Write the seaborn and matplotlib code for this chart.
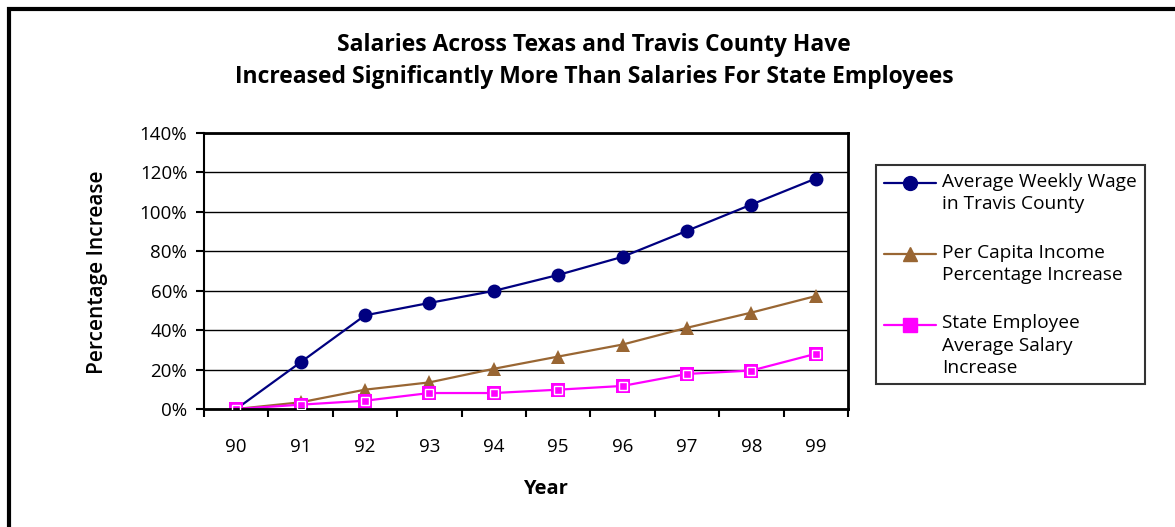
import matplotlib
matplotlib.use("Agg")
import matplotlib.pyplot as plt
import seaborn as sns
import pandas as pd
import numpy as np
from matplotlib.patches import Rectangle
from matplotlib.lines import Line2D
from matplotlib.ticker import FixedLocator, PercentFormatter

years = ["90", "91", "92", "93", "94", "95", "96", "97", "98", "99"]
wage_travis = [0, 23.7, 47.5, 53.8, 59.9, 68.0, 77.2, 90.4, 103.7, 116.9]
per_capita = [0, 3.4, 9.8, 13.5, 20.4, 26.6, 32.7, 41.2, 48.9, 57.3]
state_salary = [0, 2.2, 4.2, 8.1, 8.1, 9.8, 11.7, 17.8, 19.5, 28.0]

labels = ["Average Weekly Wage\nin Travis County",
          "Per Capita Income\nPercentage Increase",
          "State Employee\nAverage Salary\nIncrease"]
colors = ["#000080", "#996633", "#FF00FF"]
markers = ["o", "^", "s"]

sns.set_theme(style="white")
plt.rcParams['font.family'] = ['Open Sans', 'DejaVu Sans']
plt.rcParams.update({"text.color": "black", "axes.labelcolor": "black",
                     "xtick.color": "black", "ytick.color": "black"})

rows = []
for lab, vals in zip(labels, [wage_travis, per_capita, state_salary]):
    for i, v in enumerate(vals):
        rows.append({"x": i, "y": v, "series": lab})
df = pd.DataFrame(rows)

fig = plt.figure(figsize=(11.75, 5.27), dpi=100)
ax = fig.add_axes([204/1175, 1-409/527, (848-204)/1175, (409-133)/527])

sns.lineplot(data=df, x="x", y="y", hue="series", style="series",
             palette=dict(zip(labels, colors)),
             markers=dict(zip(labels, markers)), dashes=False,
             markersize=10, linewidth=1.6, markeredgewidth=0,
             ax=ax, legend=False)
ax.plot(range(len(years)), state_salary, linestyle="none", marker="s",
        markersize=6, markerfacecolor="none", markeredgecolor="white",
        markeredgewidth=1.0, zorder=5)

ax.set_xlim(-0.5, len(years) - 0.5)
ax.set_ylim(0, 140)
ax.yaxis.set_major_locator(FixedLocator(np.arange(0, 141, 20)))
ax.yaxis.set_major_formatter(PercentFormatter(decimals=0))
ax.xaxis.set_major_locator(FixedLocator(np.arange(-0.5, len(years), 1.0)))
ax.xaxis.set_minor_locator(FixedLocator(np.arange(len(years))))
ax.set_xticklabels([""] * (len(years) + 1))
ax.set_xticklabels(years, minor=True)
ax.tick_params(axis="x", which="major", length=6, width=1.5, color="black", direction="out", bottom=True)
ax.tick_params(axis="x", which="minor", length=0, pad=21, labelsize=13.5)
ax.tick_params(axis="y", which="major", length=6, width=1.5, color="black", direction="out", left=True, labelsize=13.5, pad=6)
ax.grid(axis="y", color="black", linewidth=1.0)
ax.set_axisbelow(True)
for s in ax.spines.values():
    s.set_color("black")
    s.set_linewidth(2)
ax.spines["left"].set_linewidth(1.5)

ax.set_xlabel("Year", fontsize=14.5, fontweight="bold")
ax.set_ylabel("Percentage Increase", fontsize=15, fontweight="semibold")
ax.xaxis.label.set_va("center")
ax.xaxis.set_label_coords((545 - 204) / 644, (409 - 489) / 276)
ax.yaxis.label.set_rotation_mode("default")
ax.yaxis.label.set_va("center")
ax.yaxis.label.set_ha("center")
ax.yaxis.set_label_coords((97 - 204) / 644, (409 - 272.5) / 276)

fig.text(594/1175, 1-45/527, "Salaries Across Texas and Travis County Have",
         ha="center", va="center", fontsize=16.5, fontweight="bold")
fig.text(594/1175, 1-77/527, "Increased Significantly More Than Salaries For State Employees",
         ha="center", va="center", fontsize=16.5, fontweight="bold")

handles = []
for lab, c, m in zip(labels, colors, markers):
    handles.append(Line2D([0], [0], color=c, marker=m, markersize=10,
                          markerfacecolor=c, markeredgecolor=c, linewidth=1.6))
leg = fig.legend(handles=handles, labels=labels, loc="upper left",
                 bbox_to_anchor=(876/1175, 1-165/527), borderaxespad=0,
                 frameon=True, fontsize=13.8, handlelength=2.75, handletextpad=0.3,
                 labelspacing=1.6, borderpad=0.4, fancybox=False)
leg.get_frame().set_edgecolor("black")
leg.get_frame().set_linewidth(1.5)
for t in leg.get_texts():
    t.set_linespacing(1.3)

# align each legend marker with the first line of its label
fig.canvas.draw()
r = fig.canvas.get_renderer()
p2pt = 72.0 / fig.dpi
for h, t in zip(leg.legend_handles, leg.get_texts()):
    tb = t.get_window_extent(r)
    nlines = t.get_text().count("\n") + 1
    line_px = tb.height / nlines
    target = tb.y1 - 0.52 * line_px
    hb = h.get_window_extent(r)
    cur = 0.5 * (hb.y0 + hb.y1)
    dy = (target - cur) * p2pt
    h.set_ydata(np.asarray(h.get_ydata(), dtype=float) + dy)

fig.patches.append(Rectangle((9/1175, -0.1), 1.2, 1-9/527+0.1, transform=fig.transFigure,
                             fill=False, edgecolor="black", linewidth=3))

fig.savefig("out.png", dpi=100)
